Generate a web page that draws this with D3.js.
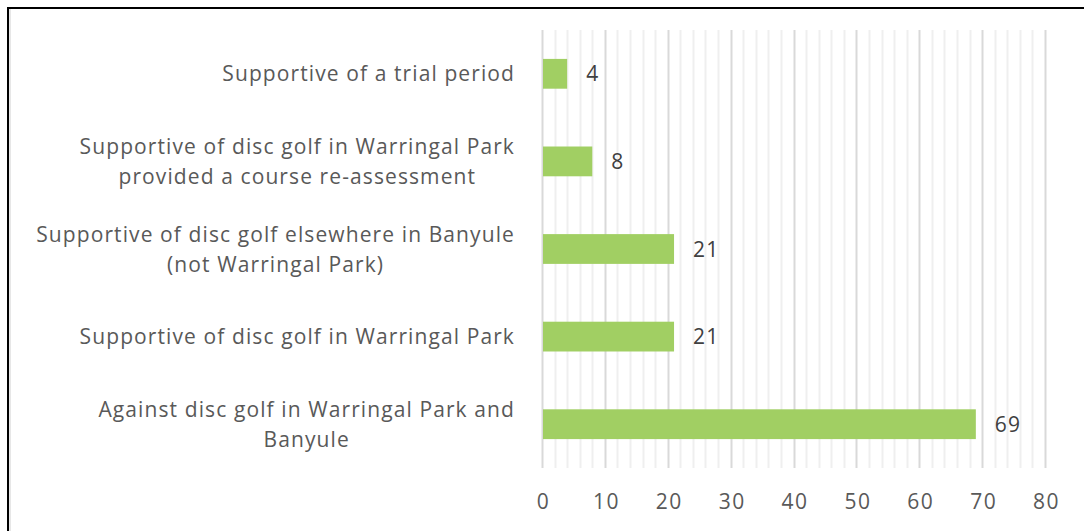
<!DOCTYPE html>
<html>
<head>
<meta charset="utf-8">
<script src="https://cdn.jsdelivr.net/npm/d3@7"></script>
<style>
  body { margin: 0; background: #fff; }
  svg text { font-family: "Open Sans", sans-serif; }
</style>
</head>
<body>
<svg width="1084" height="531"></svg>
<script>
// chart data, top to bottom
var categories = [
    ["Supportive of a trial period"],
    ["Supportive of disc golf in Warringal Park", "provided a course re-assessment"],
    ["Supportive of disc golf elsewhere in Banyule", "(not Warringal Park)"],
    ["Supportive of disc golf in Warringal Park"],
    ["Against disc golf in Warringal Park and", "Banyule"]
];
var values = [4, 8, 21, 21, 69];
var xTicks = [0, 10, 20, 30, 40, 50, 60, 70, 80];

var svg = d3.select("svg"),
    width = +svg.attr("width"),
    height = +svg.attr("height");

// frame
svg.append("line").attr("x1", 8).attr("x2", width).attr("y1", 8).attr("y2", 8)
    .attr("stroke", "#000").attr("stroke-width", 2);
svg.append("line").attr("x1", 8).attr("x2", 8).attr("y1", 7).attr("y2", height)
    .attr("stroke", "#000").attr("stroke-width", 2);
svg.append("line").attr("x1", 10).attr("x2", 10).attr("y1", 9).attr("y2", height)
    .attr("stroke", "#d0d0d0").attr("stroke-width", 1);

var x = d3.scaleLinear().domain([0, 80]).range([542, 1045]);
var y = d3.scaleBand()
    .domain(d3.range(values.length))
    .range([30, 468])
    .paddingInner(0.66)
    .paddingOuter(0.33);

// minor gridlines every 2, major every 10
var minor = d3.range(0, 81, 2).filter(function(d) { return d % 10 != 0; });
svg.append("g").selectAll("line")
    .data(minor)
    .enter().append("line")
    .attr("x1", function(d) { return Math.round(x(d)) + 0.5; })
    .attr("x2", function(d) { return Math.round(x(d)) + 0.5; })
    .attr("y1", 30).attr("y2", 468)
    .attr("stroke", "#efefef").attr("stroke-width", 2);

svg.append("g").selectAll("line")
    .data(xTicks)
    .enter().append("line")
    .attr("x1", function(d) { return Math.round(x(d)) + 0.5; })
    .attr("x2", function(d) { return Math.round(x(d)) + 0.5; })
    .attr("y1", 30).attr("y2", 468)
    .attr("stroke", "#d9d9d9").attr("stroke-width", 2);

// x axis tick labels
var xAxis = d3.axisBottom(x).tickValues(xTicks).tickSize(0).tickPadding(0);
var gx = svg.append("g").attr("transform", "translate(1,494)").call(xAxis);
gx.select(".domain").remove();
gx.selectAll("text")
    .attr("dy", "0.71em")
    .style("font-family", "'Open Sans', sans-serif")
    .style("font-size", "21px")
    .style("letter-spacing", "1.5px")
    .attr("fill", "#595959");

// bars
svg.append("g").selectAll("rect")
    .data(values)
    .enter().append("rect")
    .attr("x", x(0) + 1)
    .attr("y", function(d, i) { return y(i); })
    .attr("width", function(d) { return x(d) - x(0) - 1; })
    .attr("height", y.bandwidth())
    .attr("fill", "#a1cf63");

// value labels
svg.append("g").selectAll("text")
    .data(values)
    .enter().append("text")
    .attr("x", function(d) { return x(d) + 19; })
    .attr("y", function(d, i) { return y(i) + y.bandwidth() / 2; })
    .attr("dy", "0.36em")
    .style("font-size", "21px")
    .style("letter-spacing", "1.2px")
    .attr("fill", "#404040")
    .text(function(d) { return d; });

// category labels, lines centred within a right aligned block
var lineH = 30, rightEdge = 515;
categories.forEach(function(lines, i) {
    var cy = y(i) + y.bandwidth() / 2;
    var g = svg.append("g");
    var texts = g.selectAll("text")
        .data(lines)
        .enter().append("text")
        .attr("y", function(d, j) { return cy + (j - (lines.length - 1) / 2) * lineH; })
        .attr("dy", "0.36em")
        .attr("text-anchor", "middle")
        .style("font-size", "21px")
        .style("letter-spacing", "1.1px")
        .attr("fill", "#595959")
        .text(function(d) { return d; });
    var maxW = 0;
    texts.each(function() { maxW = Math.max(maxW, this.getComputedTextLength()); });
    texts.attr("x", rightEdge - maxW / 2);
});
</script>
</body>
</html>
